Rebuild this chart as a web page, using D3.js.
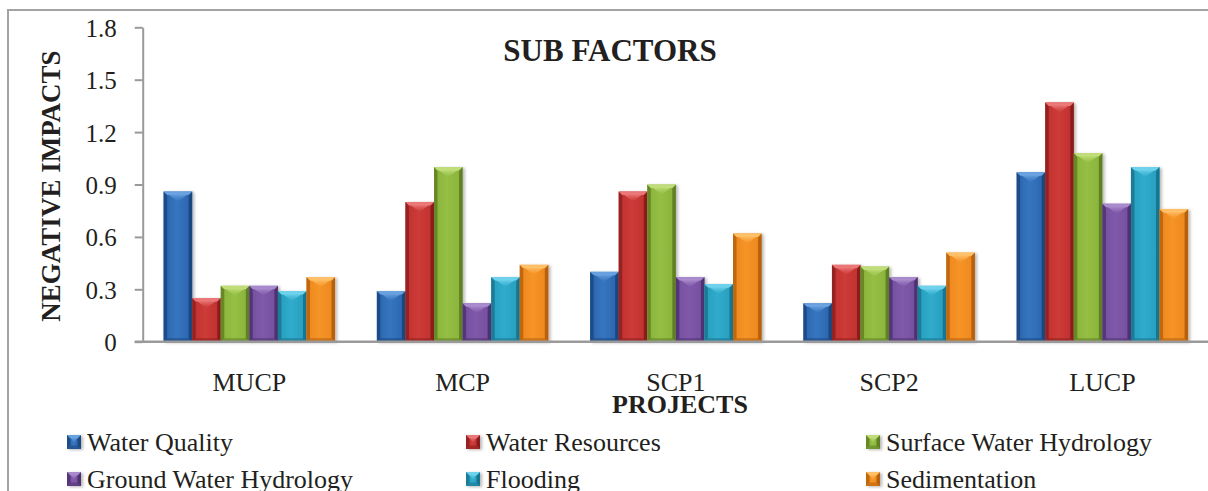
<!DOCTYPE html>
<html>
<head>
<meta charset="utf-8">
<script src="https://cdn.jsdelivr.net/npm/d3@7/dist/d3.min.js"></script>
<style>
  html, body { margin: 0; padding: 0; background: #fff; }
  svg { display: block; }
  text { font-family: "Liberation Serif", "Times New Roman", serif; fill: #231f20; }
</style>
</head>
<body>
<svg id="chart" width="1208" height="491"></svg>
<script>
// Projects on the category axis
const projects = ["MUCP", "MCP", "SCP1", "SCP2", "LUCP"];

// Sub factor series
const subFactors = [
  "Water Quality", "Water Resources", "Surface Water Hydrology",
  "Ground Water Hydrology", "Flooding", "Sedimentation"
];

// Negative impact per sub factor, one value per project (MUCP, MCP, SCP1, SCP2, LUCP)
const waterQuality        = [0.86, 0.29, 0.40, 0.22, 0.97];
const waterResources      = [0.25, 0.80, 0.86, 0.44, 1.37];
const surfaceHydrology    = [0.32, 1.00, 0.90, 0.43, 1.08];
const groundHydrology     = [0.32, 0.22, 0.37, 0.37, 0.79];
const flooding            = [0.29, 0.37, 0.33, 0.32, 1.00];
const sedimentation       = [0.37, 0.44, 0.62, 0.51, 0.76];

const seriesValues = [waterQuality, waterResources, surfaceHydrology,
                      groundHydrology, flooding, sedimentation];

// Y axis ticks and their labels
const yTicks = [0, 0.3, 0.6, 0.9, 1.2, 1.5, 1.8];
const yTickLabels = ["0", "0.3", "0.6", "0.9", "1.2", "1.5", "1.8"];

// Bevelled bar palettes: [dark edge, base, light face, top highlight]
const palettes = [
  ["#1b4479", "#2a64ad", "#3675bf", "#6fa6e3"],
  ["#861d1d", "#bf302e", "#cc3b38", "#ee7d7e"],
  ["#5b7a22", "#88b23a", "#95bf44", "#c4e07e"],
  ["#4a2d6c", "#734e9d", "#8059aa", "#ad90d0"],
  ["#17708a", "#279dbd", "#30abcb", "#74d6f0"],
  ["#b05c0c", "#ec861c", "#f69427", "#ffc46e"]
];

const svg = d3.select("#chart");
const defs = svg.append("defs");

const shadow = defs.append("filter").attr("id", "barShadow")
  .attr("x", "-20%").attr("y", "-10%").attr("width", "150%").attr("height", "130%");
shadow.append("feDropShadow").attr("dx", 2).attr("dy", 1)
  .attr("stdDeviation", 1.6).attr("flood-color", "#000").attr("flood-opacity", 0.28);

palettes.forEach((p, i) => {
  const g = defs.append("linearGradient").attr("id", "face" + i)
    .attr("x1", "0%").attr("x2", "100%").attr("y1", "0%").attr("y2", "0%");
  g.append("stop").attr("offset", "0%").attr("stop-color", p[1]);
  g.append("stop").attr("offset", "45%").attr("stop-color", p[2]);
  g.append("stop").attr("offset", "100%").attr("stop-color", p[1]);

  const t = defs.append("linearGradient").attr("id", "top" + i)
    .attr("x1", "0%").attr("x2", "0%").attr("y1", "0%").attr("y2", "100%");
  t.append("stop").attr("offset", "0%").attr("stop-color", p[3]);
  t.append("stop").attr("offset", "100%").attr("stop-color", p[2]).attr("stop-opacity", 0.6);
});

// Outer frame of the chart area
svg.append("rect")
  .attr("x", 8).attr("y", 10).attr("width", 1400).attr("height", 700)
  .attr("fill", "none").attr("stroke", "#a3a3a3").attr("stroke-width", 2);

const plotLeft = 142.7, plotRight = 1209, plotTop = 27.3, plotBottom = 341.7;

const x0 = d3.scaleBand().domain(projects).range([plotLeft, plotRight])
  .paddingInner(0.196).paddingOuter(0.098);
const x1 = d3.scaleBand().domain(d3.range(subFactors.length)).range([0, x0.bandwidth()]);
const y = d3.scaleLinear().domain([0, 1.8]).range([plotBottom, plotTop]);

// Draw one bevelled bar
function bevelBar(g, x, yTop, w, yBase, i) {
  const p = palettes[i];
  const h = yBase - yTop;
  const b = Math.min(3.5, w / 4);
  const bar = g.append("g").attr("filter", "url(#barShadow)");
  bar.append("rect").attr("x", x).attr("y", yTop).attr("width", w).attr("height", h)
    .attr("fill", "url(#face" + i + ")");
  // left and right facets
  bar.append("polygon").attr("points",
    [[x, yTop], [x + b, yTop + b], [x + b, yBase - b], [x, yBase]].join(" "))
    .attr("fill", p[0]).attr("opacity", 0.75);
  bar.append("polygon").attr("points",
    [[x + w, yTop], [x + w - b, yTop + b], [x + w - b, yBase - b], [x + w, yBase]].join(" "))
    .attr("fill", p[0]).attr("opacity", 0.9);
  // bottom facet
  bar.append("polygon").attr("points",
    [[x, yBase], [x + b, yBase - b], [x + w - b, yBase - b], [x + w, yBase]].join(" "))
    .attr("fill", p[0]).attr("opacity", 0.55);
  // top facet with a chevron highlight
  bar.append("polygon").attr("points",
    [[x, yTop], [x + w, yTop], [x + w - b, yTop + b], [x + b, yTop + b]].join(" "))
    .attr("fill", p[3]).attr("opacity", 0.9);
  bar.append("polygon").attr("points",
    [[x + b, yTop + b * 0.6], [x + w - b, yTop + b * 0.6], [x + w / 2, yTop + Math.min(10, w * 0.6)]].join(" "))
    .attr("fill", "url(#top" + i + ")");
}

// Bars
const groups = svg.append("g").selectAll("g")
  .data(projects).join("g")
  .attr("transform", d => `translate(${x0(d)},0)`);

groups.each(function (proj, pi) {
  const g = d3.select(this);
  subFactors.forEach((sf, si) => {
    const v = seriesValues[si][pi];
    bevelBar(g, x1(si), y(v), x1.bandwidth(), y(0), si);
  });
});

// Faint reflection outlines, visible only across the bars of each group
groups.each(function (proj, pi) {
  const g = d3.select(this);
  const clipId = "barsClip" + pi;
  const clip = defs.append("clipPath").attr("id", clipId);
  subFactors.forEach((sf, si) => {
    const v = seriesValues[si][pi];
    clip.append("rect").attr("x", x0(proj) + x1(si)).attr("y", y(v))
      .attr("width", x1.bandwidth()).attr("height", y(0) - y(v));
  });
  const ghosts = svg.append("g").attr("clip-path", `url(#${clipId})`)
    .attr("transform", `translate(${x0(proj)},0)`);
  subFactors.forEach((sf, si) => {
    const v = seriesValues[si][pi];
    ghosts.append("rect")
      .attr("x", x1(si) - 9).attr("y", y(v) - 3)
      .attr("width", x1.bandwidth() + 18).attr("height", y(0) - y(v) + 3)
      .attr("fill", "none").attr("stroke", "#ffffff").attr("stroke-width", 1)
      .attr("opacity", 0.4);
  });
});

// Y axis
const yAxis = d3.axisLeft(y).tickValues(yTicks)
  .tickFormat((d, i) => yTickLabels[i]).tickSize(8).tickSizeOuter(0).tickPadding(18);
const yg = svg.append("g").attr("transform", `translate(${plotLeft},0)`).call(yAxis);
yg.select(".domain").attr("stroke", "#9a9a9a").attr("stroke-width", 2);
yg.selectAll(".tick line").attr("stroke", "#9a9a9a").attr("stroke-width", 2);
yg.selectAll(".tick text").style("font-family", "Liberation Serif")
  .style("font-size", "25px").attr("fill", "#231f20").attr("dy", "0.36em");

// X axis
const xAxis = d3.axisBottom(x0).tickSize(0).tickPadding(31);
const xg = svg.append("g").attr("transform", `translate(0,${plotBottom})`).call(xAxis);
xg.select(".domain").attr("d", `M${plotLeft - 8},0H${plotRight}`)
  .attr("stroke", "#9a9a9a").attr("stroke-width", 2.5);
xg.selectAll(".tick text").style("font-family", "Liberation Serif")
  .style("font-size", "26px").attr("fill", "#231f20");

// Titles
svg.append("text").attr("x", 610).attr("y", 61).attr("text-anchor", "middle")
  .style("font-size", "31px").style("font-weight", "bold").text("SUB FACTORS");

svg.append("text").attr("x", 680).attr("y", 413).attr("text-anchor", "middle")
  .style("font-size", "26px").style("font-weight", "bold").text("PROJECTS");

svg.append("text")
  .attr("transform", "translate(60,186) rotate(-90)")
  .attr("text-anchor", "middle")
  .style("font-size", "27px").style("font-weight", "bold").text("NEGATIVE IMPACTS");

// Legend
const legendCols = [67, 466, 866];
const legendRows = [451, 488];
subFactors.forEach((sf, i) => {
  const lx = legendCols[i % 3], ly = legendRows[Math.floor(i / 3)];
  const lg = svg.append("g");
  bevelBar(lg, lx, ly - 16, 14, ly - 2, i);
  lg.append("text").attr("x", lx + 20).attr("y", ly)
    .style("font-size", "26px").text(sf);
});
</script>
</body>
</html>
